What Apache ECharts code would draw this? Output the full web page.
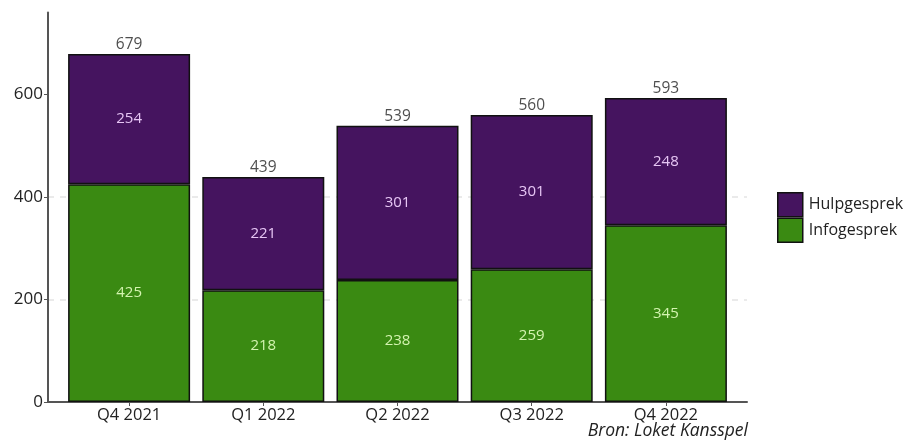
<!DOCTYPE html>
<html><head><meta charset="utf-8">
<script src="https://cdn.jsdelivr.net/npm/echarts@6/dist/echarts.min.js"></script>
<style>html,body{margin:0;padding:0;background:#fff}#c{width:907px;height:442px}</style>
</head><body><div id="c"></div>
<script>
const categories = ['Q4 2021', 'Q1 2022', 'Q2 2022', 'Q3 2022', 'Q4 2022'];
const infogesprek = [425, 218, 238, 259, 345];
const hulpgesprek = [254, 221, 301, 301, 248];
const totals = [679, 439, 539, 560, 593];
const yTicks = [0, 200, 400, 600];

const chart = echarts.init(document.getElementById('c'));
const font = '"Open Sans", "Noto Sans", sans-serif';
chart.setOption({
  animation: false,
  grid: [
    { left: 62, right: 174, top: 12.5, bottom: 40 },
    { left: 48, right: 160, top: 12.5, bottom: 40 }
  ],
  xAxis: [
    {
      type: 'category', gridIndex: 0, data: categories, boundaryGap: true,
      axisLine: { show: false },
      axisTick: { show: true, alignWithLabel: true, length: 4, lineStyle: { color: '#555' } },
      axisLabel: { color: '#222', fontSize: 16.5, fontFamily: font, margin: 5 },
      splitLine: { show: false }
    },
    {
      type: 'value', gridIndex: 1, min: 0, max: 1,
      axisLine: { show: true, onZero: false, lineStyle: { color: '#555', width: 2 } },
      axisTick: { show: false }, axisLabel: { show: false }, splitLine: { show: false }
    }
  ],
  yAxis: [
    { type: 'value', gridIndex: 0, min: 0, max: 760, show: false, splitLine: { show: false } },
    {
      type: 'value', gridIndex: 1, min: 0, max: 760, interval: 200,
      axisLine: { show: true, onZero: false, lineStyle: { color: '#555', width: 2 } },
      axisTick: { show: true, customValues: yTicks, length: 4, lineStyle: { color: '#555' } },
      axisLabel: { customValues: yTicks, color: '#222', fontSize: 17, fontFamily: font, margin: 5 },
      splitLine: { show: true, showMinLine: false, showMaxLine: false, lineStyle: { color: '#e4e4e4', type: [6, 6], width: 1.5 } }
    }
  ],
  legend: {
    orient: 'vertical', left: 772, top: 187,
    data: ['Hulpgesprek', 'Infogesprek'],
    itemWidth: 25, itemHeight: 24, itemGap: 0,
    icon: 'rect',
    itemStyle: { borderColor: '#111', borderWidth: 1.5 },
    textStyle: { fontSize: 16, color: '#222', fontFamily: font, padding: [0, 0, 0, 1] }
  },
  series: [
    {
      name: 'Infogesprek', type: 'bar', stack: 'a', barWidth: 122, xAxisIndex: 0, yAxisIndex: 0,
      data: infogesprek,
      itemStyle: { color: '#3a8a12', borderColor: '#111', borderWidth: 1.5 },
      label: { show: true, position: 'inside', color: '#d4f4b0', fontSize: 15, fontFamily: font }
    },
    {
      name: 'Hulpgesprek', type: 'bar', stack: 'a', barWidth: 122, xAxisIndex: 0, yAxisIndex: 0,
      data: hulpgesprek,
      itemStyle: { color: '#45145f', borderColor: '#111', borderWidth: 1.5 },
      label: { show: true, position: 'inside', color: '#e6c6f4', fontSize: 15, fontFamily: font }
    },
    {
      name: 'Totaal', type: 'scatter', symbolSize: 1, xAxisIndex: 0, yAxisIndex: 0,
      data: totals,
      itemStyle: { color: 'transparent' },
      label: { show: true, position: 'top', distance: 1, color: '#222', fontSize: 15.5, fontFamily: font },
      silent: true, z: 5
    }
  ],
  graphic: [{
    type: 'text', right: 159, top: 422,
    style: { text: 'Bron: Loket Kansspel', font: 'italic 17.5px ' + font, fill: '#222' }
  }]
});
</script></body></html>
